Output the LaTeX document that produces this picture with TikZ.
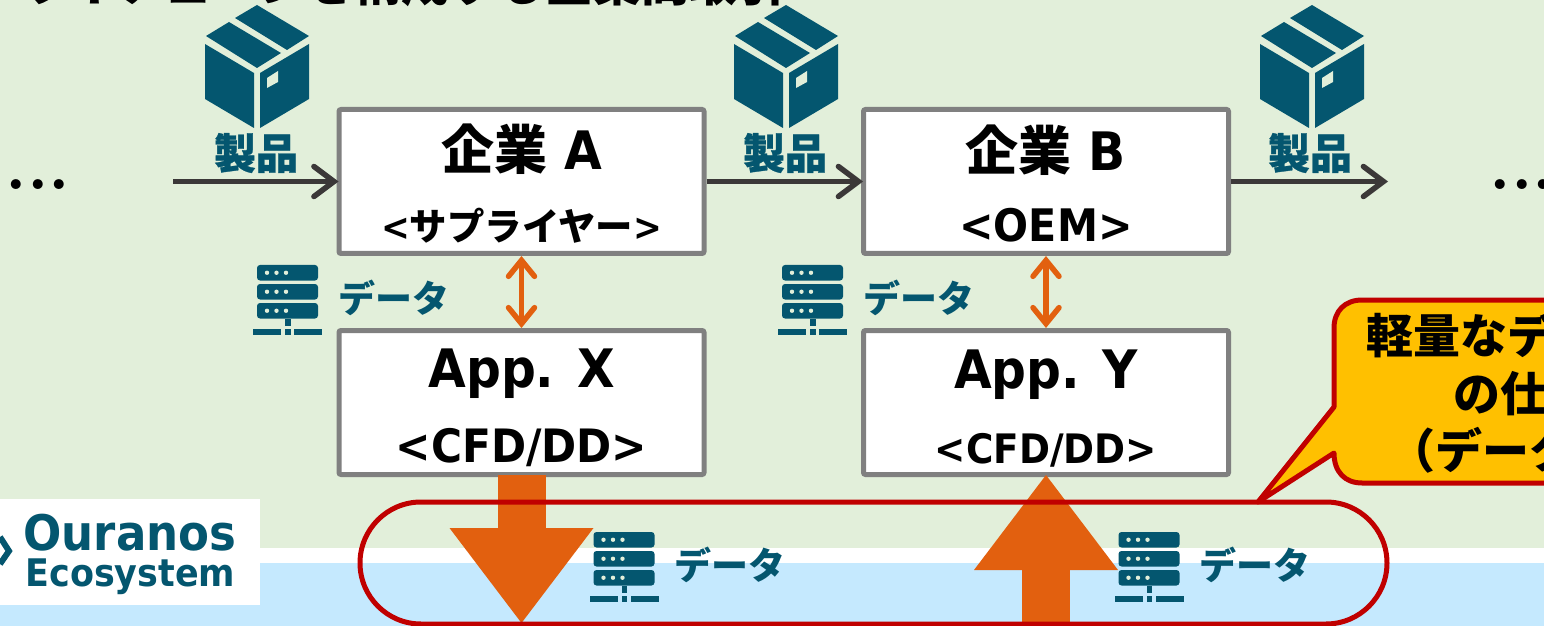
\documentclass[tikz,border=0pt]{standalone}
\usepackage{fontspec}
\setmainfont{DejaVu Sans}[FakeStretch=0.92]
\newfontfamily\jpfont{Noto Sans CJK JP}
\newfontfamily\heavyfont{Noto Sans CJK JP}[FakeBold=0.7]
\newfontfamily\dotfont{Latin Modern Roman}
\usetikzlibrary{arrows.meta, positioning}

\definecolor{leaf}{HTML}{E2EFDA}
\definecolor{sky}{HTML}{C5E9FE}
\definecolor{teal}{HTML}{04566F}
\definecolor{flow}{HTML}{E2600F}
\definecolor{crimson}{HTML}{C00000}
\definecolor{amber}{HTML}{FFC000}
\definecolor{coal}{HTML}{3B3838}

\newcommand{\headstrut}{\rule{0pt}{25pt}}

\tikzset{
  party/.style={draw=gray, line width=2.5pt, fill=white, rounded corners=1pt, minimum width=182.5pt, minimum height=72pt, inner sep=0pt, align=center, font=\bfseries\fontsize{26.5}{30}\selectfont},
  goods/.style={font=\heavyfont\bfseries\fontsize{21}{21}\selectfont, text=teal, inner sep=0pt},
  datalabel/.style={font=\jpfont\bfseries\fontsize{18.5}{18.5}\selectfont, text=teal, inner sep=0pt},
  calltext/.style={font=\jpfont\bfseries\fontsize{23.5}{23.5}\selectfont, anchor=west, inner sep=0pt},
  dotrun/.style={font=\dotfont\bfseries\fontsize{34.5}{34.5}\selectfont, inner sep=0pt, anchor=base},
  chain/.style={draw=coal, line width=2.75pt, shorten >=-1pt, -{Straight Barb[length=10pt, width=15pt, line cap=round, line width=2.75pt]}},
  swap/.style={draw=flow, line width=2.75pt, {Straight Barb[length=8pt, width=13pt, line cap=round, line width=2.75pt]}-{Straight Barb[length=8pt, width=13pt, line cap=round, line width=2.75pt]}},
  bigflow/.style={draw=flow, line width=24pt, -{Triangle[length=47.5pt, width=72pt, line width=0pt]}},
  parcel/.pic={
    \fill[teal] (-51,36) -- (-28,22) -- (24,53) -- (0,68) -- cycle;
    \fill[teal] (-22,18) -- (0,5) -- (52,36) -- (30,50) -- cycle;
    \fill[teal] (-52,44) -- (-3,73) -- (-3,128) -- (-52,99) -- cycle;
    \fill[teal] (3,73) -- (52,44) -- (52,99) -- (3,128) -- cycle;
    \fill[leaf] (10,78) -- (21,71) -- (21,82) -- (10,88) -- cycle;
  },
  server/.pic={
    \foreach \rack in {0,19,38} {
      \fill[teal, rounded corners=1.5pt] (0,\rack) rectangle (61,\rack+15.5);
      \foreach \lamp in {10,19.5,29} \fill[leaf] (\lamp,\rack+7.75) circle (2.2);
    }
    \fill[teal] (28,53.5) rectangle (33.7,61);
    \fill[teal] (-4,64) rectangle (24,70);
    \fill[teal] (28,64) rectangle (33.7,70);
    \fill[teal] (37,64) rectangle (65,70);
  }
}

\begin{document}
\begin{tikzpicture}[x=0.5pt, y=-0.5pt]
\useasboundingbox (0,0) rectangle (1544,626);
\clip (0,0) rectangle (1544,626);

% Background bands
\fill[leaf] (0,0) rectangle (1544,548);
\fill[white] (0,548) rectangle (1544,563);
\fill[sky] (0,563) rectangle (1544,626);

% Logo
\fill[white] (0,499) rectangle (260,605);
\draw[teal, line width=3pt] (0,537) -- (9,551) -- (0,564);
\node[font=\bfseries\fontsize{24.5}{24.5}\selectfont, text=teal, inner sep=0pt, anchor=base west] (ouranos) at (23,550) {Ouranos};
\node[font=\bfseries\fontsize{19}{19}\selectfont, text=teal, inner sep=0pt, anchor=base west] (ecosystem) at (25,586) {Ecosystem};

% Title
\node[font=\jpfont\bfseries\fontsize{24}{24}\selectfont, inner sep=0pt, anchor=base west] (title) at (20,2) {ライチェーンを構成する企業間取引};

% Companies and apps
\node[party] (compa) at (521.5,181.5) {\headstrut{\jpfont 企業} A\\[5.5pt]{\fontsize{18.7}{24}\selectfont <{\jpfont サプライヤー}>}};
\node[party, right=77.25pt of compa] (compb) {\headstrut{\jpfont 企業} B\\[5.5pt]{\fontsize{22.4}{24}\selectfont <OEM>}};
\node[party, below=36pt of compa] (appx) {\headstrut App. X\\[7.5pt]{\fontsize{23}{24}\selectfont <CFD/DD>}};
\node[party, below=36pt of compb] (appy) {\headstrut App. Y\\[7.5pt]{\fontsize{20.3}{24}\selectfont <CFD/DD>}};

% Products
\pic at (257,0) {parcel};
\pic at (786,0) {parcel};
\pic at (1312,0) {parcel};
\node[goods] (goodsa) at (256,153) {製品};
\node[goods] (goodsb) at (785,153) {製品};
\node[goods] (goodsc) at (1310,153) {製品};

% Chain arrows
\coordinate (chainin) at (173,181.5);
\coordinate (chainout) at (1386,181.5);
\draw[chain] (chainin) -- (compa);
\draw[chain] (compa) -- (compb);
\draw[chain] (compb) -- (chainout);
\node[dotrun] (dotsl) at (38,189.5) {...};
\node[dotrun] (dotsr) at (1522,189.5) {...};

% Data exchange
\draw[swap] (compa) -- (appx);
\draw[swap] (compb) -- (appy);
\pic at (257,265) {server};
\pic at (782,265) {server};
\node[datalabel] (dataa) at (393.5,298) {データ};
\node[datalabel] (datab) at (918.5,298) {データ};

% Flows to and from the bottom
\coordinate (flowout) at (521,623);
\coordinate (flowin) at (1046,626);
\draw[bigflow, shorten <=-1pt] (appx) -- (appx |- flowout);
\draw[bigflow, shorten >=-1pt] (flowin) -- (appy);
\pic at (593.5,532) {server};
\pic at (1118.5,532) {server};
\node[datalabel] (datac) at (730,565) {データ};
\node[datalabel] (datad) at (1254.5,565) {データ};

% Message bus
\node[draw=crimson, line width=2.5pt, rounded corners=30.5pt, minimum width=513.5pt, minimum height=61pt, inner sep=0pt] (bus) at (873.5,563) {};

% Callout
\draw[crimson, fill=amber, line width=2.5pt, line join=round] (1334,407) -- (1258,502) -- (1334,453)
  .. controls (1334,472) and (1345,483) .. (1362,483) -- (1600,483) -- (1600,300) -- (1362,300)
  .. controls (1345,300) and (1334,311) .. (1334,328) -- cycle;
\node[calltext] (callone) at (1366,335) {軽量なデ};
\node[calltext] (calltwo) at (1453,394) {の仕};
\node[calltext] (callthree) at (1388,450) {（データ};
\end{tikzpicture}
\end{document}
